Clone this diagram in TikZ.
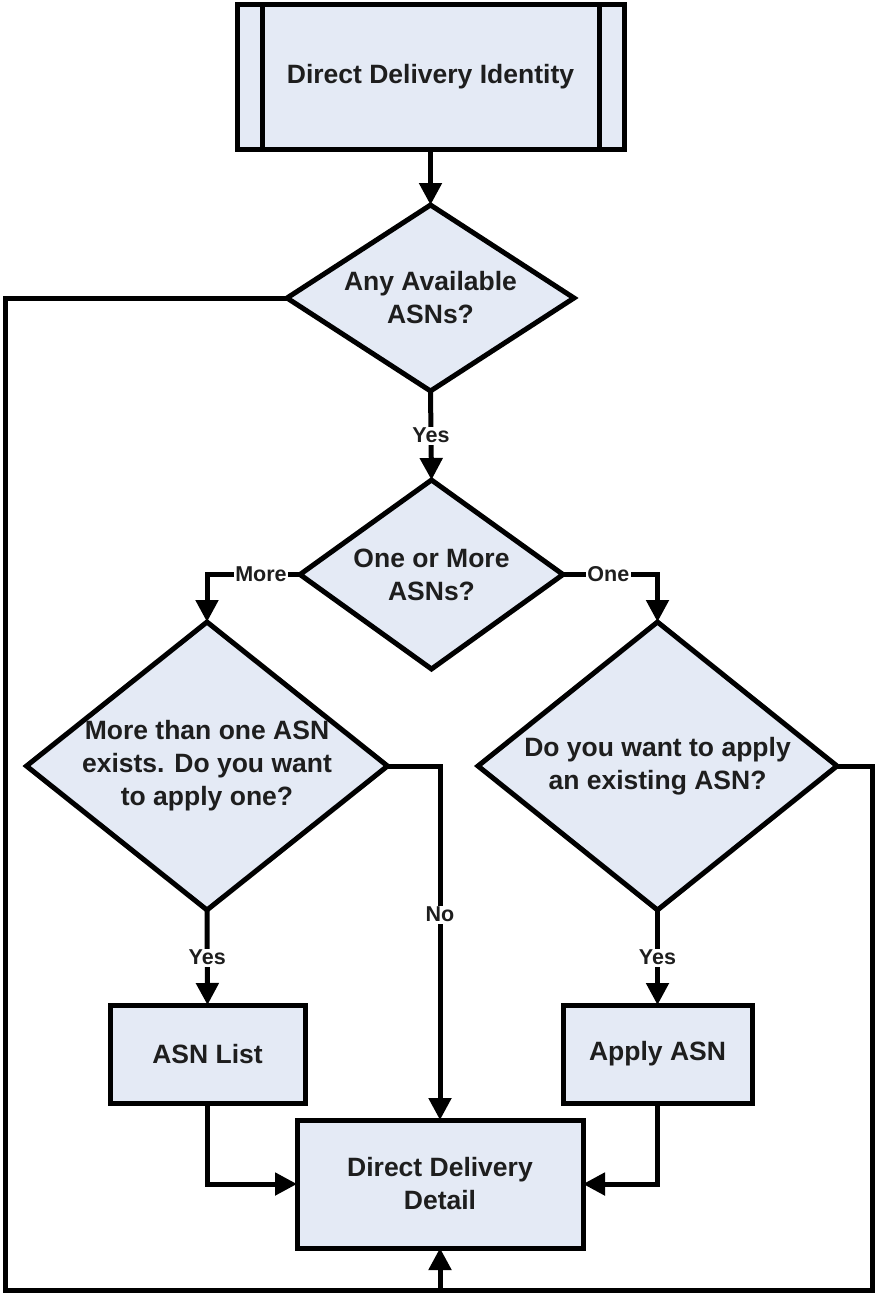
\documentclass[tikz,border=0pt]{standalone}
\usepackage{fontspec}
\setmainfont{Liberation Sans}
\usetikzlibrary{shapes.geometric,arrows.meta}

\definecolor{boxfill}{HTML}{E4EAF5}
\definecolor{inkdark}{HTML}{1E1E1E}

\tikzset{
  flowline/.style={line width=5pt, draw=black},
  flowarrow/.style={flowline, -{Triangle[width=22pt,length=22pt]}},
  block/.style={draw=black, line width=5pt, fill=boxfill, rectangle,
    inner sep=0pt, outer sep=0pt, align=center, text=inkdark,
    font=\fontsize{26.5pt}{33pt}\selectfont\bfseries},
  decision/.style={draw=black, line width=5pt, fill=boxfill, diamond,
    inner sep=0pt, outer sep=0pt, shape aspect=1},
  decisiontext/.style={align=center, text=inkdark, inner sep=0pt,
    font=\fontsize{26.5pt}{33pt}\selectfont\bfseries},
  edgelabel/.style={fill=white, inner sep=1.5pt, text=inkdark,
    font=\fontsize{21.5pt}{24pt}\selectfont\bfseries},
}

\begin{document}
\begin{tikzpicture}[x=1pt, y=-1pt]
  \useasboundingbox (0,0) rectangle (877,1299);

  % predefined-process box at the top
  \node[block, minimum width=387pt, minimum height=145pt] (identity) at (430.5,76.5)
    {Direct Delivery Identity};
  \draw[line width=5pt] ([xshift=25pt]identity.north west) -- ([xshift=25pt]identity.south west);
  \draw[line width=5pt] ([xshift=-25pt]identity.north east) -- ([xshift=-25pt]identity.south east);

  % decisions
  \node[decision, minimum width=287pt, minimum height=186pt] (anyasn) at (430.5,298) {};
  \node[decisiontext] (anyasntxt) at (430.5,298) {Any Available\\ASNs?};

  \node[decision, minimum width=263pt, minimum height=189pt] (oneormore) at (431.5,574.5) {};
  \node[decisiontext] (oneormoretxt) at (431.5,574.5) {One or More\\ASNs?};

  \node[decision, minimum width=361pt, minimum height=288pt] (morethan) at (207,766) {};
  \node[decisiontext] (morethantxt) at (207,766) {More than one ASN\\exists. Do you want\\to apply one?};

  \node[decision, minimum width=359pt, minimum height=288pt] (applyq) at (657.5,766) {};
  \node[decisiontext] (applyqtxt) at (657.5,766) {Do you want to apply\\an existing ASN?};

  % process boxes
  \node[block, minimum width=195pt, minimum height=98pt] (asnlist) at (207.5,1054) {ASN List};
  \node[block, minimum width=189pt, minimum height=98pt] (applyasn) at (657.5,1054) {Apply ASN};
  \node[block, minimum width=286pt, minimum height=128pt] (detail) at (440,1184)
    {Direct Delivery\\Detail};

  % corners of the outer return loop
  \coordinate (loopleft) at (5,1290);
  \coordinate (loopright) at (872,1290);

  % connectors
  \draw[flowarrow] (identity.south) -- (anyasn.north);
  \draw[flowarrow] (anyasn.south) -- node[edgelabel] (yes1) {Yes} (oneormore.north);
  \draw[flowarrow] (oneormore.west) -| node[edgelabel, pos=0.21] (more) {More} (morethan.north);
  \draw[flowarrow] (oneormore.east) -| node[edgelabel, pos=0.24] (one) {One} (applyq.north);
  \draw[flowarrow] (morethan.east) -| node[edgelabel, pos=0.71] (no) {No} (detail.north);
  \draw[flowarrow] (morethan.south) -- node[edgelabel] (yes2) {Yes} (asnlist.north);
  \draw[flowarrow] (applyq.south) -- node[edgelabel] (yes3) {Yes} (applyasn.north);
  \draw[flowarrow] (asnlist.south) |- (detail.west);
  \draw[flowarrow] (applyasn.south) |- (detail.east);

  % return loop from the side branches into the detail box
  \draw[flowline] (anyasn.west) -| (loopleft) -- (loopright) |- (applyq.east);
  \draw[flowarrow] (detail.south |- loopleft) -- (detail.south);
\end{tikzpicture}
\end{document}
